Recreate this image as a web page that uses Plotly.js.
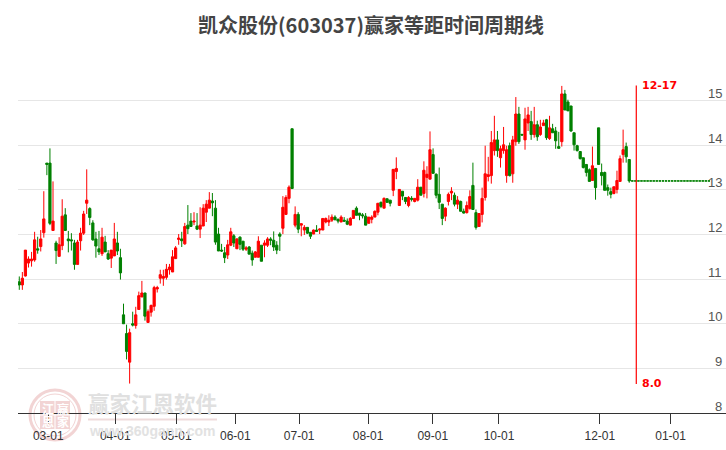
<!DOCTYPE html>
<html>
<head>
<meta charset="utf-8">
<script src="https://cdn.plot.ly/plotly-3.0.1.min.js"></script>
<style>html,body{margin:0;padding:0;background:#fff}#chart{width:726px;height:450px}</style>
</head>
<body>
<div id="chart"></div>
<script>
var titleText = '凯众股份(603037)赢家等距时间周期线';
var openValues = [
10.94,10.87,11.07,11.36,11.41,11.43,11.68,11.73,12.04,13.60,
13.60,12.09,11.81,11.51,11.75,12.44,11.90,11.88,11.81,11.33,
11.86,12.03,12.70,12.58,12.26,11.90,11.68,11.57,11.83,11.57,
11.47,11.52,11.81,11.48,10.20,9.78,9.14,10.00,9.96,10.32,
10.60,10.69,10.03,10.26,10.39,10.78,11.02,11.02,11.04,11.21,
11.16,11.46,11.89,11.90,11.79,12.21,12.30,12.28,12.19,12.12,
12.19,12.50,12.59,12.75,12.59,12.01,11.65,11.59,11.54,11.76,
11.97,11.68,11.94,11.85,11.67,11.72,11.58,11.49,11.49,11.76,
11.76,11.76,11.90,11.87,11.76,12.01,12.14,12.45,12.81,14.37,
12.21,12.45,12.21,12.10,12.16,12.05,12.01,12.10,12.10,12.10,
12.28,12.28,12.32,12.39,12.34,12.28,12.32,12.30,12.21,12.36,
12.59,12.48,12.44,12.41,12.25,12.34,12.39,12.50,12.72,12.59,
12.80,12.77,12.99,13.41,12.65,12.97,12.83,12.65,12.81,12.74,
12.77,13.06,12.92,13.28,13.24,13.79,13.35,12.90,12.68,12.41,
12.74,12.93,12.88,12.68,12.74,12.52,12.49,12.58,13.10,12.49,
12.18,12.45,12.83,13.30,13.32,13.88,14.12,13.72,13.88,13.32,
13.99,13.36,14.08,14.70,14.24,14.12,14.50,14.53,14.24,14.46,
14.24,14.44,14.57,14.15,14.37,14.32,13.97,14.08,15.15,14.97,
14.88,14.28,13.99,13.86,13.72,13.57,13.45,13.21,13.48,14.39,
13.39,13.39,13.05,12.96,12.92,13.01,13.19,13.79,13.97,13.68,
13.2,13.2,13.2,13.2,13.2,13.2,13.2,13.2,13.2,13.2,13.2,13.2,13.2,
13.2,13.2,13.2,13.2,13.2,13.2,13.2,13.2,13.2,13.2,13.2,13.2,13.2];
var closeValues = [
10.87,11.02,11.65,11.45,11.45,11.88,11.65,11.90,12.35,13.57,
12.25,12.30,11.64,11.77,12.41,12.09,11.86,11.86,11.33,11.83,
12.03,12.46,12.77,12.38,11.88,11.74,11.61,11.94,11.61,11.45,
11.65,11.90,11.63,11.14,10.00,9.38,9.80,9.97,10.20,10.63,
10.69,10.17,10.27,10.41,10.81,10.81,11.10,11.06,11.22,11.27,
11.50,11.70,11.92,11.86,12.18,12.13,12.18,12.30,12.12,12.21,
12.59,12.68,12.77,12.71,11.83,11.63,11.63,11.48,11.77,12.06,
11.81,11.90,11.78,11.67,11.70,11.56,11.43,11.61,11.85,11.40,
11.81,11.90,11.87,11.72,11.65,11.96,12.61,12.83,13.06,13.03,
12.45,12.12,12.24,12.16,12.03,11.96,12.10,12.07,12.12,12.36,
12.36,12.32,12.39,12.33,12.30,12.39,12.30,12.23,12.36,12.54,
12.43,12.43,12.42,12.21,12.39,12.39,12.52,12.70,12.63,12.81,
12.72,12.70,13.46,13.48,13.01,12.86,12.74,12.83,12.79,12.81,
13.06,12.88,13.44,13.35,13.90,13.37,12.88,12.72,12.36,12.59,
12.90,12.97,12.68,12.77,12.52,12.48,12.65,12.85,12.56,12.16,
12.47,12.81,13.36,13.34,14.06,14.12,13.88,13.92,14.01,13.90,
13.32,14.12,14.70,14.08,14.23,14.59,14.68,14.24,14.46,14.19,
14.41,14.50,14.17,14.39,14.28,14.10,13.93,15.15,14.79,14.77,
14.32,14.01,13.88,13.70,13.50,13.39,13.19,13.54,13.05,13.57,
13.32,12.99,12.99,12.90,13.07,13.21,13.70,13.90,13.74,13.2,
13.2,13.2,13.2,13.2,13.2,13.2,13.2,13.2,13.2,13.2,13.2,13.2,13.2,
13.2,13.2,13.2,13.2,13.2,13.2,13.2,13.2,13.2,13.2,13.2,13.2,13.2];
var highValues = [
11.06,11.16,11.65,11.51,11.61,12.06,11.95,12.10,12.97,13.60,
13.93,13.19,11.86,11.94,12.79,12.59,12.08,12.03,11.88,11.88,
12.15,12.53,13.46,12.61,12.32,12.06,12.08,12.15,11.97,11.65,
11.65,12.26,12.06,11.68,10.45,9.98,9.89,10.27,10.38,10.72,
10.96,10.69,10.32,10.43,10.85,10.85,11.21,11.21,11.34,11.34,
11.65,11.74,12.01,12.06,12.26,12.66,12.48,12.50,12.48,12.61,
12.68,12.77,12.95,12.93,12.77,12.15,11.79,11.72,11.88,12.15,
12.01,11.92,11.96,11.85,11.74,11.74,11.64,11.63,11.96,11.76,
11.87,11.94,11.94,12.07,11.85,12.05,12.86,12.88,13.10,14.37,
12.63,12.50,12.25,12.21,12.16,12.05,12.11,12.21,12.14,12.36,
12.38,12.43,12.45,12.43,12.36,12.43,12.39,12.36,12.39,12.54,
12.63,12.48,12.48,12.48,12.39,12.43,12.54,12.70,12.74,12.83,
12.81,12.77,13.46,13.73,13.01,12.97,12.83,12.86,12.86,12.81,
13.24,13.06,13.64,13.53,14.31,13.93,13.37,13.50,12.68,12.61,
12.94,13.06,12.94,12.86,12.76,12.58,12.74,12.99,13.61,12.56,
12.47,13.05,13.99,13.74,14.32,14.66,14.32,13.99,14.41,13.99,
14.06,14.21,15.08,14.86,14.26,14.84,14.86,14.77,14.86,14.55,
14.57,14.57,14.59,14.66,14.48,14.41,14.30,15.33,15.24,15.02,
14.88,14.28,14.01,13.86,13.72,13.57,13.48,13.97,13.48,14.39,
13.59,13.41,13.12,13.05,13.07,13.43,13.77,14.35,14.06,13.68,
13.2,13.2,13.2,13.2,13.2,13.2,13.2,13.2,13.2,13.2,13.2,13.2,13.2,
13.2,13.2,13.2,13.2,13.2,13.2,13.2,13.2,13.2,13.2,13.2,13.2,13.2];
var lowValues = [
10.76,10.76,11.06,11.26,11.28,11.39,11.57,11.62,11.93,13.33,
12.21,12.08,11.34,11.51,11.65,12.08,11.60,11.64,11.21,11.33,
11.64,11.99,12.46,12.21,11.86,11.48,11.54,11.52,11.61,11.43,
11.25,11.52,11.54,10.99,10.00,9.20,8.66,9.94,9.89,10.32,
10.60,10.07,10.03,10.16,10.29,10.70,10.90,10.85,10.99,11.10,
11.16,11.45,11.77,11.72,11.77,12.01,12.19,12.21,12.10,11.92,
12.19,12.28,12.59,12.41,11.77,11.63,11.61,11.36,11.45,11.74,
11.72,11.68,11.65,11.63,11.63,11.56,11.30,11.49,11.49,11.40,
11.49,11.72,11.76,11.63,11.56,11.63,12.01,12.45,12.70,13.03,
12.16,12.03,11.96,11.99,12.01,11.90,12.01,12.07,12.01,12.10,
12.25,12.19,12.28,12.32,12.25,12.28,12.28,12.21,12.21,12.36,
12.43,12.32,12.36,12.21,12.25,12.25,12.39,12.43,12.59,12.59,
12.72,12.63,12.86,13.24,12.65,12.77,12.68,12.61,12.74,12.72,
12.74,12.88,12.83,12.81,13.24,13.37,12.81,12.57,12.21,12.30,
12.65,12.77,12.63,12.57,12.52,12.47,12.47,12.56,12.56,12.11,
12.18,12.27,12.76,13.19,13.14,13.77,13.74,13.50,13.81,13.16,
13.30,13.16,13.99,14.03,14.21,13.90,14.32,14.12,14.17,14.10,
14.21,14.44,14.12,14.12,14.28,13.92,13.92,13.97,14.79,14.77,
14.30,13.88,13.86,13.68,13.48,13.30,13.19,13.21,12.78,13.57,
13.10,12.99,12.87,12.81,12.90,12.92,13.19,13.61,13.61,13.16,
13.2,13.2,13.2,13.2,13.2,13.2,13.2,13.2,13.2,13.2,13.2,13.2,13.2,
13.2,13.2,13.2,13.2,13.2,13.2,13.2,13.2,13.2,13.2,13.2,13.2,13.2];
var tickPositions = [9.46,31.3,51.2,70.5,91.3,113.8,134.9,156.5,189.4,212.5];
var tickLabels = ['03-01','04-01','05-01','06-01','07-01','08-01','09-01','10-01','12-01','01-01'];
var priceTicks = [8,9,10,11,12,13,14,15];
var cycleX = [201.3,201.3];
var cycleY = [15.34,8.65];
var cycleLabels = ['12-17','8.0'];

// pixel helpers for the decoration around the plot area
var PL = 18, PW = 708, PB = 413, PH = 357.4;
function px(v){return (v-PL)/PW;}
function py(v){return (PB-v)/PH;}

var traces = [
  {type:'candlestick', x:openValues.map(function(_,i){return i;}),
   open:openValues, high:highValues, low:lowValues, close:closeValues,
   whiskerwidth:0,
   increasing:{line:{color:'#ff0000',width:1},fillcolor:'#ff0000'},
   decreasing:{line:{color:'#008000',width:1},fillcolor:'#008000'},
   hoverinfo:'skip', showlegend:false},
  {type:'scatter', mode:'lines', x:cycleX, y:cycleY,
   line:{color:'#ff0000',width:1.2}, hoverinfo:'skip', showlegend:false}
];

var annotations = [];
priceTicks.forEach(function(t){
  annotations.push({xref:'paper',yref:'y',x:1,y:t,text:String(t),showarrow:false,
    xanchor:'right',yanchor:'middle',xshift:-2,yshift:7,
    font:{family:'Liberation Sans, Arial, sans-serif',size:13,color:'#555555'}});
});
annotations.push({xref:'x',yref:'y',x:cycleX[0],y:cycleY[0],text:cycleLabels[0],showarrow:false,
  xanchor:'left',yanchor:'middle',xshift:4,
  font:{family:'DejaVu Sans, sans-serif',size:11,color:'#ff0000',weight:'bold'}});
annotations.push({xref:'x',yref:'y',x:cycleX[1],y:cycleY[1],text:cycleLabels[1],showarrow:false,
  xanchor:'left',yanchor:'middle',xshift:4,
  font:{family:'DejaVu Sans, sans-serif',size:11,color:'#ff0000',weight:'bold'}});
// watermark
var cjk = 'Noto Sans CJK SC, sans-serif';
annotations.push({xref:'paper',yref:'paper',x:px(152.5),y:py(402),text:'赢家江恩软件',showarrow:false,
  xanchor:'center',yanchor:'middle',font:{family:cjk,size:21.5,color:'#e0e0e0',weight:'bold'}});
annotations.push({xref:'paper',yref:'paper',x:px(152),y:py(431),text:'www.360gann.com',showarrow:false,
  xanchor:'center',yanchor:'middle',font:{family:'Liberation Sans, Arial, sans-serif',size:14,color:'#e2e2e2',weight:'bold'}});
[['江',47.5,408],['赢',62.5,408],['恩',47.5,422],['家',62.5,422]].forEach(function(m){
  annotations.push({xref:'paper',yref:'paper',x:px(m[1]),y:py(m[2]),text:m[0],showarrow:false,
    xanchor:'center',yanchor:'middle',font:{family:cjk,size:12,color:'#ffffff',weight:'bold'}});
});

var pale = '#f2d4d4';
function rect(x0,y0,x1,y1,c){return {type:'rect',xref:'paper',yref:'paper',layer:'below',
  x0:px(x0),x1:px(x1),y0:py(y0),y1:py(y1),fillcolor:c,line:{width:0}};}
var shapes = [
  {type:'circle',xref:'paper',yref:'paper',layer:'below',x0:px(30),x1:px(80),y0:py(440),y1:py(390),
   fillcolor:'rgba(0,0,0,0)',line:{color:pale,width:3}},
  {type:'circle',xref:'paper',yref:'paper',layer:'below',x0:px(34),x1:px(76),y0:py(436),y1:py(394),
   fillcolor:'rgba(0,0,0,0)',line:{color:pale,width:1}},
  rect(40,401,54.5,414.5,pale), rect(55.5,401,70,414.5,pale),
  rect(40,415.5,54.5,429,pale), rect(55.5,415.5,70,429,pale),
  rect(88,418.5,217,420.5,'#efdcdc')
];

var layout = {
  width:726, height:450, autosize:false,
  paper_bgcolor:'#ffffff', plot_bgcolor:'rgba(0,0,0,0)',
  margin:{l:PL,r:0,t:55.6,b:37,pad:0},
  showlegend:false, boxgap:0.1, boxgroupgap:0.2,
  title:{text:titleText, x:371/726, xanchor:'center', y:1-26/450, yanchor:'middle',
    font:{family:'Noto Sans CJK SC, sans-serif',size:20,color:'#444444',weight:'bold'}},
  xaxis:{type:'linear', range:[-0.42,230.57], fixedrange:true,
    rangeslider:{visible:false}, showgrid:false, zeroline:false,
    showline:true, linecolor:'#333333', linewidth:1,
    ticks:'outside', ticklen:10, tickwidth:1, tickcolor:'#333333',
    tickmode:'array', tickvals:tickPositions, ticktext:tickLabels, ticklabelstandoff:2,
    tickfont:{family:'Liberation Sans, Arial, sans-serif',size:12,color:'#333333'}},
  yaxis:{type:'linear', range:[8,16], fixedrange:true, side:'right',
    showgrid:true, gridcolor:'#e6e6e6', gridwidth:1, zeroline:false, showline:false,
    tickmode:'array', tickvals:priceTicks, ticks:'', showticklabels:false},
  annotations:annotations, shapes:shapes
};
Plotly.newPlot('chart', traces, layout, {displayModeBar:false, staticPlot:true});
</script>
</body>
</html>
